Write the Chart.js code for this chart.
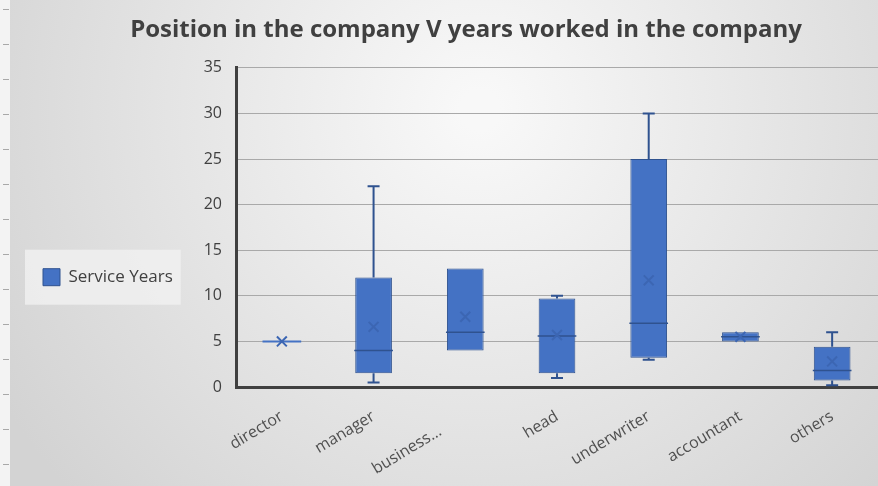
<!DOCTYPE html>
<html>
<head>
<meta charset="utf-8">
<script src="https://cdn.jsdelivr.net/npm/chart.js@4.4.0/dist/chart.umd.min.js"></script>
<style>
  html, body { margin: 0; padding: 0; background: #d8d8d8; overflow: hidden; }
  #wrap { position: relative; width: 878px; height: 486px; }
  #wrap canvas { display: block; }
</style>
</head>
<body>
<div id="wrap"><canvas id="boxChart"></canvas></div>
<script>
// Box plot values (years of service)
// the business label sits further down-left in the original, hence the trailing spaces
const categories = ['director', 'manager', 'business...       ', 'head', 'underwriter', 'accountant', 'others'];
const minVals    = [5, 0.5, 4, 1, 3, 5, 0.2];
const q1Vals     = [5, 1.5, 4, 1.5, 3.2, 5, 0.7];
const medianVals = [5, 4, 6, 5.6, 7, 5.5, 1.8];
const q3Vals     = [5, 12, 13, 9.7, 25, 6, 4.4];
const maxVals    = [5, 22, 13, 10, 30, 6, 6];
const meanVals   = [5, 6.6, 7.7, 5.7, 11.7, 5.5, 2.8];
const yTicks     = [0, 5, 10, 15, 20, 25, 30, 35];

const FONT = "'Open Sans', sans-serif";
const TEXT = '#404040';
const BOX_FILL = '#4472C4';
const BOX_LINE = '#2F528F';

// grey gradient backdrop + legend panel
const backdrop = {
  id: 'backdrop',
  beforeDraw(chart) {
    const ctx = chart.ctx;
    const w = chart.width, h = chart.height;
    ctx.save();
    const g = ctx.createRadialGradient(480, 110, 20, 480, 110, 560);
    g.addColorStop(0, '#f8f8f8');
    g.addColorStop(1, '#d3d3d3');
    ctx.fillStyle = g;
    ctx.fillRect(0, 0, w, h);
    // ruler strip on the left edge
    ctx.fillStyle = '#f3f3f3';
    ctx.fillRect(0, 0, 10, h);
    ctx.strokeStyle = '#a8a8a8';
    ctx.lineWidth = 1;
    for (let y = 9; y < h; y += 35) {
      ctx.beginPath(); ctx.moveTo(3, y + 0.5); ctx.lineTo(9, y + 0.5); ctx.stroke();
    }
    // legend panel
    const hb = chart.legend && chart.legend.legendHitBoxes && chart.legend.legendHitBoxes[0];
    if (hb) {
      ctx.fillStyle = 'rgba(240,240,240,0.85)';
      ctx.fillRect(hb.left - 18, hb.top - 19, hb.width + 26, hb.height + 38);
    }
    ctx.restore();
  }
};

// whiskers and median lines, drawn right after the boxes
const whiskers = {
  id: 'whiskers',
  afterDatasetDraw(chart, args) {
    if (args.index !== 0) return;
    const ctx = chart.ctx;
    const y = chart.scales.y;
    ctx.save();
    args.meta.data.forEach((bar, i) => {
      const x = bar.x;
      const half = bar.width / 2;
      const cap = 6;
      ctx.strokeStyle = BOX_LINE;
      ctx.lineWidth = 2;
      if (maxVals[i] > q3Vals[i]) {
        ctx.beginPath();
        ctx.moveTo(x, y.getPixelForValue(q3Vals[i]));
        ctx.lineTo(x, y.getPixelForValue(maxVals[i]));
        ctx.moveTo(x - cap, y.getPixelForValue(maxVals[i]));
        ctx.lineTo(x + cap, y.getPixelForValue(maxVals[i]));
        ctx.stroke();
      }
      if (minVals[i] < q1Vals[i]) {
        ctx.beginPath();
        ctx.moveTo(x, y.getPixelForValue(q1Vals[i]));
        ctx.lineTo(x, y.getPixelForValue(minVals[i]));
        ctx.moveTo(x - cap, y.getPixelForValue(minVals[i]));
        ctx.lineTo(x + cap, y.getPixelForValue(minVals[i]));
        ctx.stroke();
      }
      // median
      ctx.strokeStyle = q3Vals[i] === q1Vals[i] ? BOX_FILL : BOX_LINE;
      ctx.lineWidth = q3Vals[i] === q1Vals[i] ? 2 : 1.5;
      const my = y.getPixelForValue(medianVals[i]);
      ctx.beginPath();
      ctx.moveTo(x - half - 1, my);
      ctx.lineTo(x + half + 1, my);
      ctx.stroke();
    });
    ctx.restore();
  }
};

// nudge the title to the right, as in the original
const titleShift = {
  id: 'titleShift',
  afterLayout(chart) {
    if (chart.titleBlock) chart.titleBlock.left += 54;
  }
};

new Chart(document.getElementById('boxChart'), {
  data: {
    labels: categories,
    datasets: [
      {
        type: 'bar',
        label: 'Service Years',
        data: q1Vals.map((q1, i) => [q1, q3Vals[i]]),
        backgroundColor: BOX_FILL,
        borderColor: BOX_LINE,
        borderWidth: 1,
        borderSkipped: false,
        categoryPercentage: 1,
        barPercentage: 0.4,
        order: 1
      },
      {
        type: 'line',
        label: 'Mean',
        data: meanVals,
        showLine: false,
        pointStyle: 'crossRot',
        pointRadius: 7,
        pointBorderWidth: 2,
        borderColor: '#3C66B3',
        backgroundColor: '#3C66B3',
        order: 0
      }
    ]
  },
  options: {
    responsive: true,
    maintainAspectRatio: false,
    animation: false,
    layout: { padding: 0, autoPadding: false },
    plugins: {
      title: {
        display: true,
        text: 'Position in the company V years worked in the company',
        color: TEXT,
        font: { family: FONT, size: 24, weight: 'bold' },
        padding: { top: 16, bottom: 23 }
      },
      legend: {
        position: 'left',
        title: { display: true, text: '', font: { size: 12 }, padding: { top: 0, bottom: 54 } },
        labels: {
          filter: item => item.datasetIndex === 0,
          boxWidth: 17,
          boxHeight: 17,
          padding: 43,
          color: TEXT,
          font: { family: FONT, size: 17 }
        }
      },
      tooltip: { enabled: false }
    },
    scales: {
      x: {
        type: 'category',
        offset: true,
        grid: { display: false },
        border: { display: true, color: TEXT, width: 3 },
        ticks: {
          color: '#505050',
          font: { family: FONT, size: 16 },
          minRotation: 31,
          maxRotation: 31,
          autoSkip: false,
          padding: 12
        },
        afterFit(scale) {
          scale.height = 99;
          scale.paddingLeft = 0;
          scale.paddingRight = 0;
        }
      },
      y: {
        min: 0,
        max: 35,
        afterBuildTicks(scale) { scale.ticks = yTicks.map(v => ({ value: v })); },
        grid: { color: '#a9a9a9', lineWidth: 1, drawTicks: false },
        border: { display: true, color: TEXT, width: 3 },
        ticks: {
          color: TEXT,
          font: { family: FONT, size: 16 },
          padding: 14
        },
        afterFit(scale) {
          const lw = scale.chart.legend ? scale.chart.legend.width : 0;
          scale.width = 236 - lw;
        }
      }
    }
  },
  plugins: [backdrop, whiskers, titleShift]
});
</script>
</body>
</html>
